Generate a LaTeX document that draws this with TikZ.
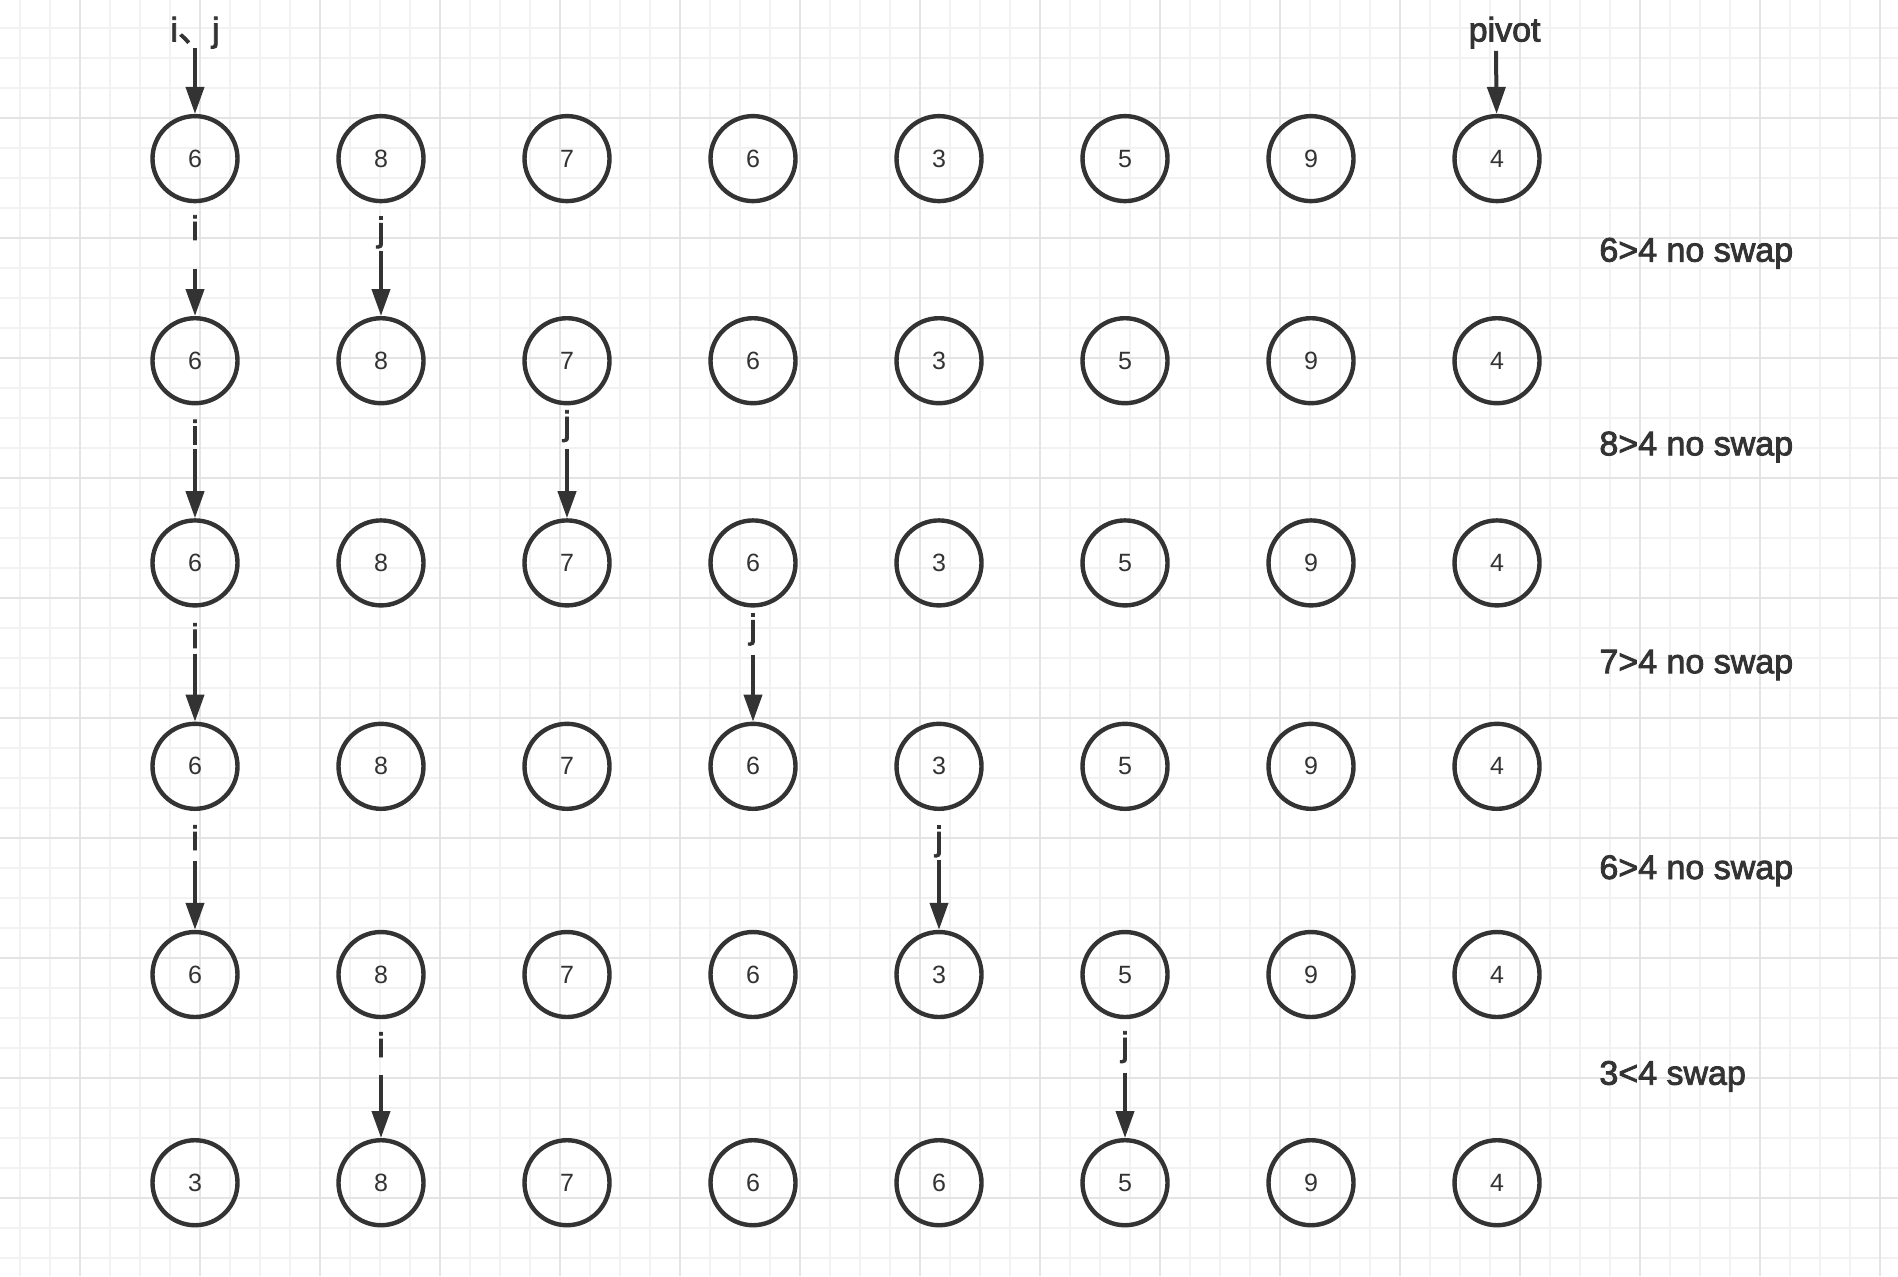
\documentclass[tikz,border=0pt]{standalone}
\usepackage{fontspec}
\setmainfont{Liberation Sans}
\newfontfamily\lblfont[FakeBold=2.5]{Liberation Sans}
\newfontfamily\cjkfont[FakeBold=2.5]{Noto Sans CJK SC}
\usepackage{tikz}
\usetikzlibrary{arrows.meta}
\definecolor{ink}{HTML}{333333}
\definecolor{gridminor}{HTML}{F2F2F2}
\definecolor{gridmajor}{HTML}{E4E4E4}
\tikzset{
  cell/.style={circle, draw=ink, line width=2.2pt, minimum size=42.5pt, inner sep=0pt,
    text=ink, font=\fontsize{12.5}{14}\selectfont},
  ptr/.style={text=ink, inner sep=0pt, font=\lblfont\fontsize{17}{19}\selectfont},
  note/.style={text=ink, inner sep=0pt, anchor=base west, font=\lblfont\fontsize{17}{19}\selectfont},
  move/.style={draw=ink, line width=2pt, -{Triangle[length=13.5pt,width=9pt]}}
}

\begin{document}
\begin{tikzpicture}[x=0.5pt,y=-0.5pt]
\useasboundingbox (0,0) rectangle (1898,1276);
\fill[white] (0,0) rectangle (1898,1276);

\foreach \x in {20,50,...,1890} \draw[gridminor,line width=0.6pt] (\x,0) -- (\x,1276);
\foreach \y in {28,58,...,1270} \draw[gridminor,line width=0.6pt] (0,\y) -- (1898,\y);
\foreach \x in {80,200,...,1880} \draw[gridmajor,line width=0.8pt] (\x,0) -- (\x,1276);
\foreach \y in {118,238,...,1198} \draw[gridmajor,line width=0.8pt] (0,\y) -- (1898,\y);

\foreach \r/\y/\vals in {1/158.6/{6,8,7,6,3,5,9,4},2/360.7/{6,8,7,6,3,5,9,4},
    3/562.9/{6,8,7,6,3,5,9,4},4/766.3/{6,8,7,6,3,5,9,4},
    5/974.5/{6,8,7,6,3,5,9,4},6/1182.7/{3,8,7,6,6,5,9,4}}
  \foreach \v [count=\c] in \vals
    \node[cell] (n-\r-\c) at ({195+186*(\c-1)},\y) {\v};

\node[ptr] (ij) at (195,32.7) {i{\cjkfont 、}j};
\node[ptr] (pv) at (1504.6,32.7) {pivot};
\coordinate (s-ij) at (195,48.4);
\coordinate (s-pv) at (1496,50.8);
\draw[move] (s-ij) -- (n-1-1);
\draw[move] (s-pv) -- (n-1-8);

\foreach \r/\ci/\yi/\si/\cj/\yj/\sj in {2/1/227.6/268.7/2/232.4/250.6,
    3/1/432.2/449/3/426.1/449, 4/1/635.5/653.7/4/629.5/654.9,
    5/1/837.7/860.7/5/841.3/859.5, 6/2/1044.7/1074.9/6/1047.1/1072.5}{
  \node[ptr] (i\r) at ({195+186*(\ci-1)},\yi) {i};
  \node[ptr] (j\r) at ({195+186*(\cj-1)},\yj) {j};
  \coordinate (s-i\r) at ({195+186*(\ci-1)},\si);
  \coordinate (s-j\r) at ({195+186*(\cj-1)},\sj);
  \draw[move] (s-i\r) -- (n-\r-\ci);
  \draw[move] (s-j\r) -- (n-\r-\cj);
}

\node[note] (t2) at (1599,261.6) {6>4 no swap};
\node[note] (t3) at (1599,455.3) {8>4 no swap};
\node[note] (t4) at (1599,673.2) {7>4 no swap};
\node[note] (t5) at (1599,879) {6>4 no swap};
\node[note] (t6) at (1599,1084.7) {3<4 swap};
\end{tikzpicture}
\end{document}
